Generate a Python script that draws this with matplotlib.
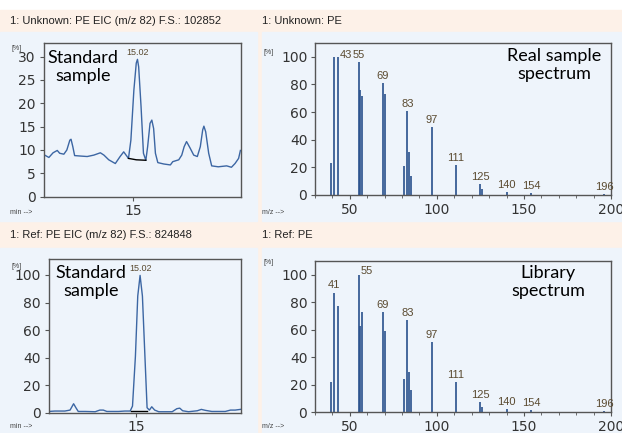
import matplotlib.pyplot as plt
from matplotlib.patches import Rectangle
from matplotlib.ticker import MultipleLocator, FixedLocator
from matplotlib import font_manager

# 色谱图数据 (EIC m/z 82)
t_unk = [13.52, 13.59, 13.66, 13.73, 13.77, 13.84, 13.89, 13.94, 13.96, 13.99,
         14.02, 14.12, 14.23, 14.34, 14.45, 14.51, 14.59, 14.70, 14.78, 14.84,
         14.88, 14.92, 14.96, 15.01, 15.05, 15.07, 15.09, 15.13, 15.17, 15.21,
         15.24, 15.28, 15.31, 15.34, 15.37, 15.41, 15.51, 15.62, 15.66, 15.76,
         15.81, 15.85, 15.89, 15.95, 16.01, 16.07, 16.12, 16.16, 16.18, 16.21,
         16.26, 16.31, 16.42, 16.56, 16.64, 16.70, 16.76, 16.79]
i_unk = [8.9, 8.4, 9.4, 9.9, 9.3, 9.1, 10.0, 12.1, 12.3, 10.7,
         8.8, 8.7, 8.6, 8.9, 9.4, 8.9, 7.9, 7.1, 8.6, 9.6,
         8.9, 8.2, 12.1, 22.8, 28.6, 29.4, 27.8, 19.3, 9.3, 7.8,
         10.7, 15.7, 16.4, 14.6, 9.3, 7.3, 7.0, 6.8, 7.5, 7.9,
         8.9, 10.7, 11.8, 10.4, 8.9, 8.6, 10.7, 14.3, 15.1, 13.9,
         9.3, 6.6, 6.4, 6.6, 6.3, 7.1, 8.2, 9.9]
base_unk_t = [14.92, 15.05, 15.21]
base_unk_i = [8.2, 7.9, 7.8]

t_ref = [13.50, 13.61, 13.78, 13.87, 13.93, 13.97, 14.01, 14.13, 14.30, 14.38,
         14.44, 14.50, 14.70, 14.81, 14.90, 14.94, 14.99, 15.03, 15.07, 15.11,
         15.16, 15.19, 15.23, 15.27, 15.32, 15.39, 15.62, 15.70, 15.75, 15.80,
         15.90, 16.05, 16.12, 16.19, 16.30, 16.53, 16.62, 16.70, 16.79]
i_ref = [0.9, 1.2, 1.2, 1.9, 6.5, 3.6, 0.9, 0.9, 0.7, 1.9,
         1.9, 0.9, 0.9, 1.2, 1.2, 4.8, 41.0, 84.7, 99.7, 84.7,
         33.8, 3.6, 1.9, 4.3, 1.9, 0.7, 0.7, 2.9, 3.3, 1.4,
         0.7, 1.4, 2.4, 1.7, 0.9, 0.9, 1.9, 1.9, 2.4]
base_ref_t = [14.92, 15.19]
base_ref_i = [0.9, 0.9]

# 质谱数据
mz = [39, 41, 43, 55, 56, 57, 69, 70, 81, 83, 84, 85, 97, 111, 125, 126, 140, 154, 196]
int_unk = [23, 100, 100, 96, 76, 72, 81, 73, 21, 61, 31, 14, 49, 22, 8, 4.5, 2.4, 1.5, 0.5]
int_lib = [22, 87, 77, 100, 63, 73, 73, 59, 24, 67, 29, 16, 51, 22, 7, 3.6, 2.4, 1.4, 0.5]
lab_unk = [43, 55, 69, 83, 97, 111, 125, 140, 154, 196]
lab_lib = [41, 55, 69, 83, 97, 111, 125, 140, 154, 196]

W, H = 622, 433
PEACH = '#fdf1e8'
BLUE = '#eef4fb'
LINE = '#3c66a3'
BAR = '#29508c'
TXT = '#333333'
LAB = '#5a4a30'

names = {f.name for f in font_manager.fontManager.ttflist}
HEAD_FONT = ['Liberation Sans Narrow'] if 'Liberation Sans Narrow' in names else ['Liberation Sans']
HEAD_FONT += ['DejaVu Sans']
NOTE_FONT = ['Lato', 'DejaVu Sans']

fig = plt.figure(figsize=(W / 100, H / 100), dpi=100, facecolor='white')


def rect(x0, y0, x1, y1, color):
    fig.patches.append(Rectangle((x0 / W, 1 - y1 / H), (x1 - x0) / W, (y1 - y0) / H,
                                 transform=fig.transFigure, color=color, zorder=-10))


def axes_px(x0, y0, x1, y1):
    ax = fig.add_axes([x0 / W, 1 - y1 / H, (x1 - x0) / W, (y1 - y0) / H], zorder=1)
    ax.set_facecolor(BLUE)
    for s in ax.spines.values():
        s.set_color('#555555')
        s.set_linewidth(1.0)
    ax.tick_params(colors='#555555', labelcolor=TXT, labelsize=10, length=3, width=0.8,
                   pad=2.5)
    return ax


def ftext(x, y, s, **kw):
    fig.text(x / W, 1 - y / H, s, zorder=5, **kw)


# 背景
rect(0, 10, W, H, PEACH)
rect(0, 32, 257, 221, BLUE)
rect(262, 32, W, 221, BLUE)
rect(0, 248, 257, H, BLUE)
rect(262, 248, W, H, BLUE)

# 标题栏
hk = dict(fontsize=8, family=HEAD_FONT, color='#222222', va='center', ha='left')
ftext(10, 21, '1: Unknown: PE EIC (m/z 82) F.S.: 102852', **hk)
ftext(262, 21, '1: Unknown: PE', **hk)
ftext(10, 235, '1: Ref: PE EIC (m/z 82) F.S.: 824848', **hk)
ftext(262, 235, '1: Ref: PE', **hk)

# 小标签
sk = dict(fontsize=5, family=HEAD_FONT, color='#444444', va='center', ha='left')
ftext(11, 48, '[%]', **sk)
ftext(11, 267, '[%]', **sk)
ftext(263, 52, '[%]', **sk)
ftext(263, 263, '[%]', **sk)
ftext(10, 212, 'min -->', **sk)
ftext(10, 427, 'min -->', **sk)
ftext(262, 212, 'm/z -->', **sk)
ftext(262, 427, 'm/z -->', **sk)


def chrom(ax, t, i, bt, bi, ymax, ystep):
    ax.plot(t, i, color=LINE, lw=1.0)
    ax.plot(bt, bi, color='black', lw=1.0)
    ax.set_xlim(13.5, 16.8)
    ax.set_ylim(0, ymax)
    ax.xaxis.set_major_locator(FixedLocator([15]))
    ax.yaxis.set_major_locator(MultipleLocator(ystep))
    k = max(range(len(i)), key=lambda n: i[n])
    ax.annotate('15.02', (t[k], i[k]), xytext=(0, 2), textcoords='offset points',
                ha='center', va='bottom', fontsize=6.5, family=HEAD_FONT, color=LAB,
                annotation_clip=False)


def spectrum(ax, inten, labels, offsets):
    ax.vlines(mz, 0, inten, color=BAR, lw=1.2)
    ax.set_xlim(30, 200)
    ax.set_ylim(0, 110)
    ax.xaxis.set_major_locator(MultipleLocator(50))
    ax.xaxis.set_minor_locator(MultipleLocator(10))
    ax.yaxis.set_major_locator(MultipleLocator(20))
    ax.tick_params(which='minor', length=2, color='#555555')
    for m in labels:
        v = inten[mz.index(m)]
        dx, dy = offsets.get(m, (0, 1.5))
        ax.annotate(str(m), (m, v), xytext=(dx, dy), textcoords='offset points',
                    ha='center', va='bottom', fontsize=8, family=HEAD_FONT, color=LAB,
                    annotation_clip=False)


ax1 = axes_px(43.5, 43, 241, 196.7)
chrom(ax1, t_unk, i_unk, base_unk_t, base_unk_i, 32.9, 5)
ax2 = axes_px(315, 43, 611, 195)
spectrum(ax2, int_unk, lab_unk, {43: (6, -2)})
ax3 = axes_px(48.5, 259, 241, 412.7)
chrom(ax3, t_ref, i_ref, base_ref_t, base_ref_i, 111.6, 20)
ax4 = axes_px(315, 261, 611, 412)
spectrum(ax4, int_lib, lab_lib, {55: (6, -1)})

# 注释文字
nk = dict(fontsize=13, family=NOTE_FONT, color='black', ha='center', va='top',
          linespacing=1.15)
ftext(83, 50, 'Standard\nsample', **nk)
ftext(554, 48, 'Real sample\nspectrum', **nk)
ftext(91, 265, 'Standard\nsample', **nk)
ftext(548, 265, 'Library\nspectrum', **nk)

plt.savefig('out.png', dpi=100, facecolor=fig.get_facecolor())
